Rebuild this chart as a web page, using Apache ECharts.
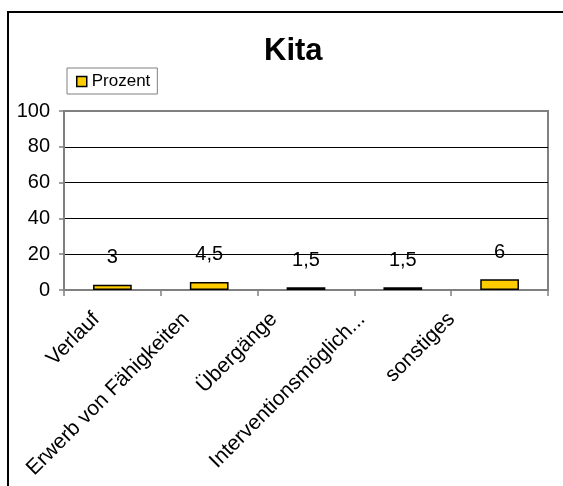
<!DOCTYPE html>
<html><head><meta charset="utf-8">
<script src="https://cdn.jsdelivr.net/npm/echarts@6/dist/echarts.min.js"></script>
<style>html,body{margin:0;padding:0;background:#fff}#c{width:563px;height:486px}</style>
</head><body><div id="c"></div>
<script>
const categories = ['Verlauf', 'Erwerb von Fähigkeiten', 'Übergänge', 'Interventionsmöglich...', 'sonstiges'];
const values = [3, 4.5, 1.5, 1.5, 6];
const yTicks = [0, 20, 40, 60, 80, 100];
const labelShift = [16, 23, 32, 41, 48];

const FONT = 'Liberation Sans, Arial, sans-serif';
const chart = echarts.init(document.getElementById('c'), null, {renderer: 'canvas'});
const rich = {t: {fontFamily: FONT, fontSize: 21, color: '#000'}};
labelShift.forEach((s, i) => {
  const w = s / 1.414;
  rich['w' + i] = {width: w, fontSize: 21, fontFamily: FONT};
  rich['h' + i] = {height: 2 * w, lineHeight: 2 * w, fontSize: 1};
});
chart.setOption({
  animation: false,
  backgroundColor: '#fff',
  graphic: [{type: 'rect', shape: {x: 8, y: 12, width: 600, height: 520}, style: {fill: 'none', stroke: '#000', lineWidth: 2}, z: -1}],
  title: {text: 'Kita', left: 264, top: 36, padding: 0,
    textStyle: {fontFamily: FONT, fontWeight: 'bold', fontSize: 31, color: '#000'}},
  legend: {left: 67, top: 68, padding: [5, 7, 4, 9], borderColor: '#808080', borderWidth: 1,
    itemWidth: 10, itemHeight: 10, icon: 'rect',
    itemStyle: {color: '#FFCC00', borderColor: '#000', borderWidth: 1.5},
    textStyle: {fontFamily: FONT, fontSize: 17, color: '#000'}},
  grid: {left: 64, top: 111, right: 15, bottom: 196, show: true, borderColor: '#808080', borderWidth: 2,
    backgroundColor: 'transparent', containLabel: false, outerBoundsMode: 'none'},
  xAxis: {type: 'category', data: categories,
    axisLine: {lineStyle: {color: '#808080', width: 2}},
    axisTick: {show: true, length: 6, lineStyle: {color: '#808080', width: 1.5}},
    axisLabel: {interval: 0, rotate: 45, margin: 26, fontFamily: FONT, fontSize: 21, color: '#000',
      formatter: (v, i) => '{t|' + v + '}{w' + i + '| }\n{h' + i + '| }', rich: rich}},
  yAxis: {type: 'value', min: 0, max: 100, interval: 20,
    axisLine: {show: true, lineStyle: {color: '#808080', width: 2}},
    axisTick: {show: true, length: 5, lineStyle: {color: '#808080', width: 1.5}},
    axisLabel: {margin: 14, fontFamily: FONT, fontSize: 20, color: '#000',
      formatter: v => yTicks.includes(v) ? String(v) : ''},
    splitLine: {show: true, showMaxLine: false, showMinLine: false, lineStyle: {color: '#000', width: 1}}},
  series: [{name: 'Prozent', type: 'bar', data: values, barCategoryGap: '60%',
    itemStyle: {color: '#FFCC00', borderColor: '#000', borderWidth: 1.5},
    label: {show: true, position: 'top', distance: 17, fontFamily: FONT, fontSize: 20, color: '#000',
      formatter: p => String(p.value).replace('.', ',')}}]
});
</script></body></html>
